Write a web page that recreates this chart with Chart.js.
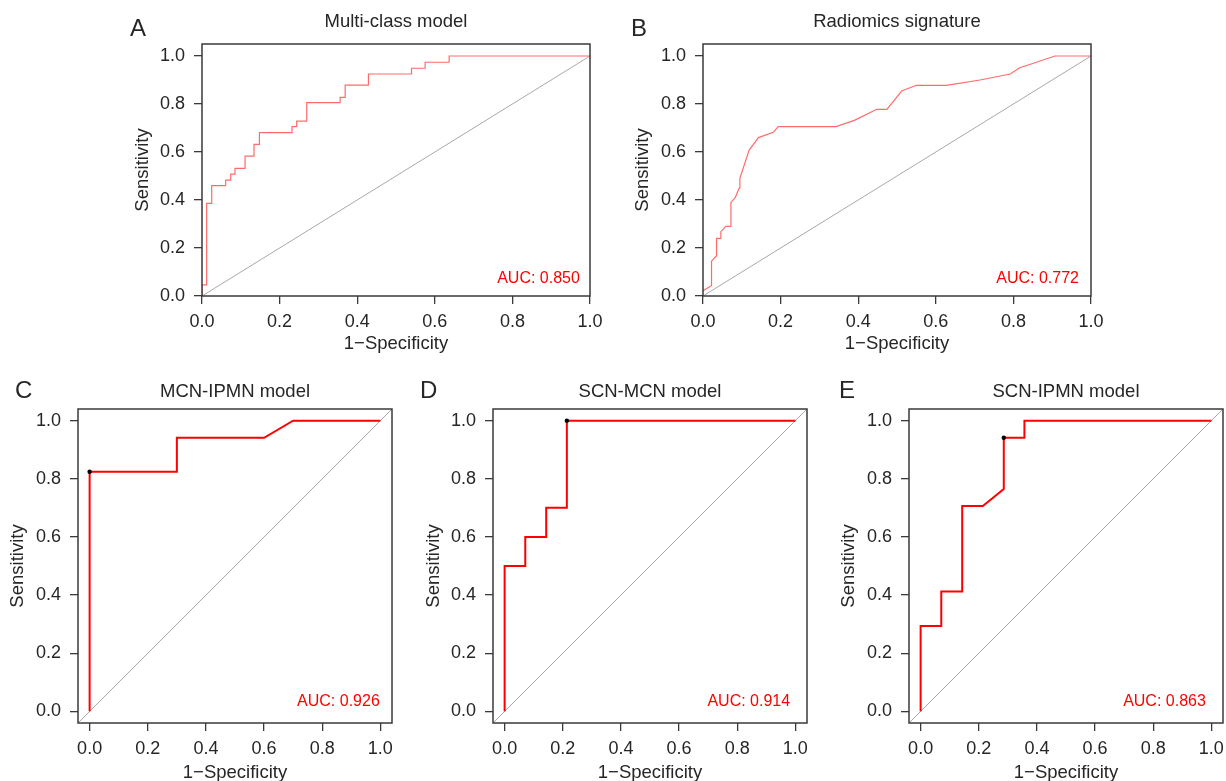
<!DOCTYPE html>
<html>
<head>
<meta charset="utf-8">
<title>ROC curves</title>
<script src="https://cdn.jsdelivr.net/npm/chart.js@4.4.1/dist/chart.umd.min.js"></script>
<style>
html, body { margin: 0; padding: 0; background: #fff; width: 1226px; height: 781px; overflow: hidden; }
canvas { position: absolute; }
</style>
</head>
<body>
<canvas id="chartA" width="500" height="365" style="left:120px;top:0px"></canvas>
<canvas id="chartB" width="510" height="365" style="left:620px;top:0px"></canvas>
<canvas id="chartC" width="410" height="420" style="left:0px;top:370px"></canvas>
<canvas id="chartD" width="410" height="420" style="left:410px;top:370px"></canvas>
<canvas id="chartE" width="420" height="420" style="left:820px;top:370px"></canvas>
<script>
// values
const letters = ['A', 'B', 'C', 'D', 'E'];
const titles = ['Multi-class model', 'Radiomics signature', 'MCN-IPMN model', 'SCN-MCN model', 'SCN-IPMN model'];
const aucLabels = ['AUC: 0.850', 'AUC: 0.772', 'AUC: 0.926', 'AUC: 0.914', 'AUC: 0.863'];
const tickValues = [0, 0.2, 0.4, 0.6, 0.8, 1.0];

const multiFpr = [0, 0, 0.012, 0.012, 0.025, 0.025, 0.061, 0.061, 0.074, 0.074, 0.085, 0.085, 0.111, 0.111, 0.134, 0.134, 0.148, 0.148, 0.232, 0.232, 0.244, 0.244, 0.27, 0.27, 0.356, 0.356, 0.369, 0.369, 0.429, 0.429, 0.54, 0.54, 0.575, 0.575, 0.637, 0.637, 1];
const multiTpr = [0, 0.046, 0.046, 0.386, 0.386, 0.46, 0.46, 0.483, 0.483, 0.508, 0.508, 0.532, 0.532, 0.583, 0.583, 0.632, 0.632, 0.681, 0.681, 0.706, 0.706, 0.729, 0.729, 0.806, 0.806, 0.828, 0.828, 0.879, 0.879, 0.925, 0.925, 0.949, 0.949, 0.974, 0.974, 1, 1];

const radioFpr = [0, 0.022, 0.022, 0.035, 0.035, 0.046, 0.046, 0.059, 0.072, 0.072, 0.083, 0.093, 0.095, 0.119, 0.143, 0.181, 0.194, 0.343, 0.39, 0.448, 0.474, 0.512, 0.55, 0.627, 0.714, 0.792, 0.815, 0.907, 1];
const radioTpr = [0.022, 0.043, 0.145, 0.168, 0.24, 0.24, 0.268, 0.29, 0.29, 0.39, 0.41, 0.449, 0.49, 0.608, 0.66, 0.682, 0.706, 0.706, 0.732, 0.778, 0.778, 0.854, 0.878, 0.878, 0.9, 0.925, 0.95, 1, 1];

const mcnIpmnFpr = [0, 0, 0.3, 0.3, 0.6, 0.7, 1];
const mcnIpmnTpr = [0, 0.824, 0.824, 0.941, 0.941, 1, 1];
const mcnIpmnBest = [0, 0.824];

const scnMcnFpr = [0, 0, 0.071, 0.071, 0.143, 0.143, 0.214, 0.214, 1];
const scnMcnTpr = [0, 0.5, 0.5, 0.6, 0.6, 0.7, 0.7, 1, 1];
const scnMcnBest = [0.214, 1];

const scnIpmnFpr = [0, 0, 0.071, 0.071, 0.143, 0.143, 0.214, 0.286, 0.286, 0.357, 0.357, 1];
const scnIpmnTpr = [0, 0.294, 0.294, 0.412, 0.412, 0.706, 0.706, 0.765, 0.941, 0.941, 1, 1];
const scnIpmnBest = [0.286, 0.941];

// look
const fontFamily = "'Liberation Sans', Arial, Helvetica, sans-serif";
const textColor = '#262626';
const axisColor = '#3a3a3a';

// layout of each panel (canvas px)
const panels = [
    { id: 'chartA', fpr: multiFpr, tpr: multiTpr, best: null, small: false,
      yAxisW: 82, xAxisH: 69, padRight: 30, titlePad: [10.4, 11.4], yTitlePad: 11.9, xTitlePad: 10,
      letterX: 10, letterY: 36, aucX: 0.974, aucY: 0.055 },
    { id: 'chartB', fpr: radioFpr, tpr: radioTpr, best: null, small: false,
      yAxisW: 83, xAxisH: 69, padRight: 39, titlePad: [10.4, 11.4], yTitlePad: 11.9, xTitlePad: 10,
      letterX: 11, letterY: 36, aucX: 0.969, aucY: 0.055 },
    { id: 'chartC', fpr: mcnIpmnFpr, tpr: mcnIpmnTpr, best: mcnIpmnBest, small: true,
      yAxisW: 78, xAxisH: 67, padRight: 18, titlePad: [10.6, 6.2], yTitlePad: 6.4, xTitlePad: 6.4,
      letterX: 15, letterY: 28, aucX: 0.998, aucY: 0.02 },
    { id: 'chartD', fpr: scnMcnFpr, tpr: scnMcnTpr, best: scnMcnBest, small: true,
      yAxisW: 83, xAxisH: 67, padRight: 13, titlePad: [10.6, 6.2], yTitlePad: 12.9, xTitlePad: 6.4,
      letterX: 10, letterY: 28, aucX: 0.982, aucY: 0.02 },
    { id: 'chartE', fpr: scnIpmnFpr, tpr: scnIpmnTpr, best: scnIpmnBest, small: true,
      yAxisW: 89, xAxisH: 67, padRight: 17, titlePad: [10.6, 6.2], yTitlePad: 17.9, xTitlePad: 6.4,
      letterX: 19, letterY: 28, aucX: 0.981, aucY: 0.02 }
];

const panelDecor = {
    id: 'panelDecor',
    afterDraw(chart, args, opts) {
        const ctx = chart.ctx;
        const a = chart.chartArea;
        ctx.save();
        ctx.strokeStyle = axisColor;
        ctx.lineWidth = 1.5;
        ctx.strokeRect(a.left, a.top, a.right - a.left, a.bottom - a.top);

        ctx.fillStyle = textColor;
        ctx.font = '24px ' + fontFamily;
        ctx.textAlign = 'left';
        ctx.textBaseline = 'alphabetic';
        ctx.fillText(opts.letter, opts.letterX, opts.letterY);

        ctx.fillStyle = '#ff0000';
        ctx.font = '16px ' + fontFamily;
        ctx.textAlign = 'right';
        ctx.fillText(opts.auc, chart.scales.x.getPixelForValue(opts.aucX), chart.scales.y.getPixelForValue(opts.aucY));
        ctx.restore();
    }
};

function axisOptions(min, max, horizontal, p) {
    return {
        type: 'linear',
        min: min,
        max: max,
        bounds: 'data',
        afterBuildTicks: function (axis) {
            axis.ticks = tickValues.map(v => ({ value: v }));
        },
        afterFit: function (axis) {
            if (horizontal) axis.height = p.xAxisH;
            else axis.width = p.yAxisW;
        },
        ticks: {
            callback: v => v.toFixed(1),
            color: textColor,
            font: { family: fontFamily, size: 18 },
            padding: horizontal ? 7 : 9,
            maxRotation: 0,
            autoSkip: false
        },
        grid: { drawOnChartArea: false, drawTicks: true, tickLength: 8, color: axisColor, lineWidth: 1.3 },
        border: { display: false },
        title: {
            display: true,
            text: horizontal ? '1\u2212Specificity' : 'Sensitivity',
            color: textColor,
            font: { family: fontFamily, size: 18.5 },
            padding: horizontal ? { top: 0, bottom: p.xTitlePad } : { top: p.yTitlePad, bottom: 0 }
        }
    };
}

function makeChart(i) {
    const p = panels[i];
    const lo = p.small ? -0.04 : 0;
    const hiX = p.small ? 1.04 : 1;
    const hiY = p.small ? 1.04 : 1.05;

    const curve = p.fpr.map((x, k) => ({ x: x, y: p.tpr[k] }));
    const diag = [{ x: lo, y: lo }, { x: hiX, y: hiX }];
    const datasets = [];
    if (p.best) {
        datasets.push({ data: [{ x: p.best[0], y: p.best[1] }], showLine: false,
            pointRadius: 2.2, pointBackgroundColor: '#000', pointBorderWidth: 0 });
    }
    datasets.push({ data: curve, showLine: true, pointRadius: 0,
        borderColor: p.small ? '#ff0000' : 'rgba(255,70,70,0.8)', borderWidth: p.small ? 2 : 1.2 });
    datasets.push({ data: diag, showLine: true, pointRadius: 0, borderColor: '#a8a8a8', borderWidth: 1 });

    new Chart(document.getElementById(p.id), {
        type: 'scatter',
        data: { datasets: datasets },
        options: {
            responsive: false,
            animation: false,
            layout: { padding: { left: 0, right: p.padRight, top: 0, bottom: 0 } },
            plugins: {
                legend: { display: false },
                tooltip: { enabled: false },
                title: {
                    display: true,
                    text: titles[i],
                    fullSize: false,
                    color: textColor,
                    font: { family: fontFamily, size: 18.5, weight: 'normal' },
                    padding: { top: p.titlePad[0], bottom: p.titlePad[1] }
                },
                panelDecor: { letter: letters[i], letterX: p.letterX, letterY: p.letterY,
                    auc: aucLabels[i], aucX: p.aucX, aucY: p.aucY }
            },
            scales: {
                x: axisOptions(lo, hiX, true, p),
                y: axisOptions(lo, hiY, false, p)
            }
        },
        plugins: [panelDecor]
    });
}

for (let i = 0; i < panels.length; i++) {
    makeChart(i);
}
</script>
</body>
</html>
